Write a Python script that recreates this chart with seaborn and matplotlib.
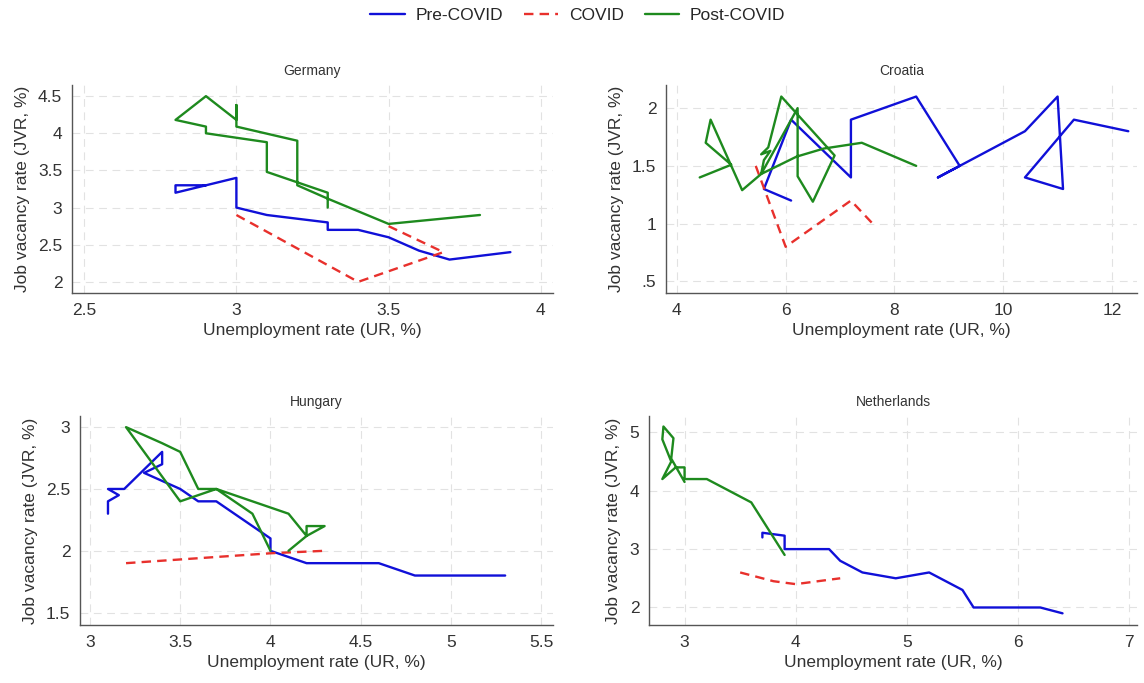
import numpy as np
import pandas as pd
import seaborn as sns
import matplotlib.pyplot as plt
from matplotlib.ticker import FuncFormatter
from matplotlib.lines import Line2D

# Germany
de_pre_ur = [3.9, 3.7, 3.6, 3.5, 3.4, 3.3, 3.3, 3.1, 3.0, 3.0, 2.9, 2.8, 2.8, 2.9]
de_pre_jvr = [2.4, 2.3, 2.42, 2.6, 2.7, 2.7, 2.8, 2.9, 3.0, 3.4, 3.3, 3.2, 3.3, 3.3]
de_cov_ur = [3.0, 3.4, 3.68, 3.5]
de_cov_jvr = [2.9, 2.0, 2.4, 2.75]
de_post_ur = [3.3, 3.3, 3.1, 3.1, 2.9, 2.9, 2.8, 2.9, 3.0, 3.0, 3.0, 3.2, 3.2, 3.3, 3.5, 3.8]
de_post_jvr = [3.0, 3.2, 3.48, 3.88, 4.0, 4.09, 4.18, 4.5, 4.18, 4.38, 4.09, 3.9, 3.3, 3.12, 2.78, 2.9]

# Croatia
hr_pre_ur = [12.3, 11.3, 10.4, 11.1, 11.0, 10.4, 9.2, 8.8, 9.2, 8.4, 7.2, 7.2, 6.1, 5.6, 6.1]
hr_pre_jvr = [1.8, 1.9, 1.4, 1.3, 2.1, 1.8, 1.5, 1.4, 1.5, 2.1, 1.9, 1.4, 1.9, 1.3, 1.2]
hr_cov_ur = [5.45, 6.0, 7.2, 7.6]
hr_cov_jvr = [1.5, 0.8, 1.2, 1.0]
hr_post_ur = [8.4, 7.4, 6.7, 6.2, 5.55, 6.22, 6.22, 6.5, 6.9, 5.92, 5.68, 5.55, 5.72, 5.6, 5.55,
              5.2, 4.62, 4.53, 5.0, 4.42]
hr_post_jvr = [1.5, 1.7, 1.65, 1.58, 1.43, 2.0, 1.41, 1.19, 1.59, 2.1, 1.66, 1.6, 1.63, 1.55, 1.43,
               1.29, 1.9, 1.7, 1.51, 1.4]

# Hungary
hu_pre_ur = [5.3, 4.8, 4.6, 4.2, 4.0, 4.0, 3.7, 3.6, 3.5, 3.3, 3.4, 3.4, 3.19, 3.1, 3.16, 3.1, 3.1]
hu_pre_jvr = [1.8, 1.8, 1.9, 1.9, 2.0, 2.1, 2.4, 2.4, 2.5, 2.63, 2.7, 2.8, 2.5, 2.5, 2.45, 2.4, 2.3]
hu_cov_ur = [3.2, 3.5, 4.0, 4.3]
hu_cov_jvr = [1.9, 1.93, 1.98, 2.0]
hu_post_ur = [4.0, 3.9, 3.7, 3.6, 3.5, 3.4, 3.2, 3.5, 3.7, 4.1, 4.2, 4.3, 4.2, 4.2, 4.1]
hu_post_jvr = [2.0, 2.3, 2.5, 2.5, 2.8, 2.87, 3.0, 2.4, 2.5, 2.3, 2.12, 2.2, 2.2, 2.12, 2.0]

# Netherlands
nl_pre_ur = [6.4, 6.2, 5.6, 5.5, 5.2, 4.9, 4.6, 4.4, 4.3, 3.9, 3.9, 3.7, 3.7]
nl_pre_jvr = [1.9, 2.0, 2.0, 2.3, 2.6, 2.5, 2.6, 2.8, 3.0, 3.0, 3.23, 3.28, 3.2]
nl_cov_ur = [3.5, 3.8, 4.0, 4.2, 4.4]
nl_cov_jvr = [2.6, 2.45, 2.4, 2.45, 2.5]
nl_post_ur = [3.9, 3.6, 3.2, 3.0, 3.0, 2.92, 2.8, 2.88, 2.8, 2.81, 2.9, 2.88, 3.0]
nl_post_jvr = [2.9, 3.8, 4.2, 4.2, 4.4, 4.4, 4.2, 4.5, 4.88, 5.1, 4.9, 4.55, 4.15]

countries = ['Germany', 'Croatia', 'Hungary', 'Netherlands']
periods = ['Pre-COVID', 'COVID', 'Post-COVID']
colors = {'Pre-COVID': '#1010d8', 'COVID': '#e8302c', 'Post-COVID': '#1e8a1e'}
styles = {'Pre-COVID': '-', 'COVID': (0, (4, 2.6)), 'Post-COVID': '-'}

series = {
    'Germany': [(de_pre_ur, de_pre_jvr), (de_cov_ur, de_cov_jvr), (de_post_ur, de_post_jvr)],
    'Croatia': [(hr_pre_ur, hr_pre_jvr), (hr_cov_ur, hr_cov_jvr), (hr_post_ur, hr_post_jvr)],
    'Hungary': [(hu_pre_ur, hu_pre_jvr), (hu_cov_ur, hu_cov_jvr), (hu_post_ur, hu_post_jvr)],
    'Netherlands': [(nl_pre_ur, nl_pre_jvr), (nl_cov_ur, nl_cov_jvr), (nl_post_ur, nl_post_jvr)],
}

xticks = {'Germany': [2.5, 3, 3.5, 4], 'Croatia': [4, 6, 8, 10, 12],
          'Hungary': [3, 3.5, 4, 4.5, 5, 5.5], 'Netherlands': [3, 4, 5, 6, 7]}
yticks = {'Germany': [2, 2.5, 3, 3.5, 4, 4.5], 'Croatia': [0.5, 1, 1.5, 2],
          'Hungary': [1.5, 2, 2.5, 3], 'Netherlands': [2, 3, 4, 5]}
xlims = {'Germany': (2.46, 4.04), 'Croatia': (3.8, 12.46),
         'Hungary': (2.945, 5.565), 'Netherlands': (2.68, 7.07)}
ylims = {'Germany': (1.85, 4.65), 'Croatia': (0.4, 2.2),
         'Hungary': (1.4, 3.09), 'Netherlands': (1.7, 5.28)}

W, H = 1144, 683
boxes = {'Germany': (72, 553, 85, 293), 'Croatia': (666, 1137, 85, 293),
         'Hungary': (80, 553, 416, 625), 'Netherlands': (649, 1137, 416, 625)}

sns.set_style('white')
plt.rcParams['font.family'] = ['Liberation Sans', 'DejaVu Sans']

fig = plt.figure(figsize=(W / 100, H / 100), dpi=100)


def stata_fmt(v, pos):
    s = '{:g}'.format(v)
    if s.startswith('0.'):
        s = s[1:]
    return s


for c in countries:
    l, r, t, b = boxes[c]
    ax = fig.add_axes([l / W, 1 - b / H, (r - l) / W, (b - t) / H])
    for p, (ur, jvr) in zip(periods, series[c]):
        df = pd.DataFrame({'ur': ur, 'jvr': jvr})
        sns.lineplot(data=df, x='ur', y='jvr', sort=False, estimator=None, ax=ax,
                     color=colors[p], linestyle=styles[p], linewidth=1.7)
    ax.set_xlim(*xlims[c])
    ax.set_ylim(*ylims[c])
    ax.set_xticks(xticks[c])
    ax.set_yticks(yticks[c])
    ax.xaxis.set_major_formatter(FuncFormatter(stata_fmt))
    ax.yaxis.set_major_formatter(FuncFormatter(stata_fmt))
    ax.grid(True, linestyle=(0, (7, 5)), color='#e2e2e2', linewidth=0.8)
    sns.despine(ax=ax, top=True, right=True)
    for s in ['left', 'bottom']:
        ax.spines[s].set_color('#555555')
        ax.spines[s].set_linewidth(1.0)
    ax.tick_params(direction='out', length=4, width=1, color='#555555',
                   labelsize=12.5, labelcolor='#333333', pad=3)
    ax.set_xlabel('Unemployment rate (UR, %)', fontsize=12.5, color='#333333', labelpad=4)
    ax.set_ylabel('Job vacancy rate (JVR, %)', fontsize=12.5, color='#333333', labelpad=6)
    ax.set_title(c, fontsize=10, color='#333333', pad=7)

handles = [Line2D([], [], color=colors[p], linestyle=styles[p], linewidth=1.7) for p in periods]
fig.legend(handles, periods, loc='upper center', bbox_to_anchor=(0.505, 1.012), ncol=3,
           frameon=False, fontsize=12.5, handlelength=2.0, handletextpad=0.6,
           columnspacing=1.2)

plt.savefig('out.png', dpi=100)
